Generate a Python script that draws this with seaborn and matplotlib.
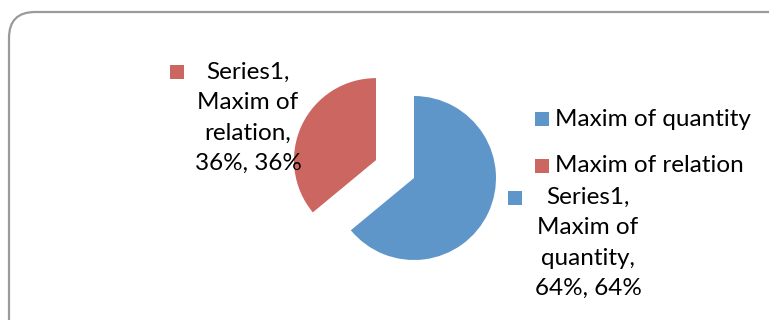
import matplotlib
matplotlib.use("Agg")
import matplotlib.pyplot as plt
from matplotlib.patches import FancyBboxPatch
import seaborn as sns

# data
categories = ["Maxim of quantity", "Maxim of relation"]
series_name = "Series1"
shares = [64, 36]
colors = ["#5F96C9", "#CC6660"]

sns.set_theme(style="white")
plt.rcParams["font.family"] = ["Lato", "DejaVu Sans"]

W, H = 769, 320
fig = plt.figure(figsize=(W / 100, H / 100), dpi=100)
ax = fig.add_axes([0, 0, 1, 1])

# pie in pixel coordinates (y measured from bottom)
cx, cy, r = 414, H - 178, 82
ax.pie(shares, colors=colors, startangle=90, counterclock=False,
       explode=[0, 42], center=(cx, cy), radius=r,
       wedgeprops=dict(linewidth=0))

ax.set_xlim(0, W)
ax.set_ylim(0, H)
ax.set_aspect("equal")
ax.axis("off")

# outer rounded frame
frame = FancyBboxPatch((9, -40), W + 20, H - 12 + 40,
                       boxstyle="round,pad=0,rounding_size=26",
                       fc="none", ec="#9A9A9A", lw=1.6, clip_on=False)
ax.add_patch(frame)

fs = 17.5

# data labels
def data_label(sx, sy, tx, ty, name, val, color):
    ax.scatter([sx], [H - sy], marker="s", s=110, color=color, linewidths=0)
    words = name.split(" ")
    txt = f"{series_name},\n{' '.join(words[:2])}\n{' '.join(words[2:])},\n{val}%, {val}%"
    ax.text(tx, H - ty, txt, ha="center", va="top", fontsize=fs,
            linespacing=1.55, color="black")

data_label(177, 72, 248, 62, categories[1], shares[1], colors[1])
data_label(515, 198, 588, 187, categories[0], shares[0], colors[0])

# legend
for i, (cat, col) in enumerate(zip(categories, colors)):
    ly = 119 + i * 47
    ax.scatter([542], [H - ly], marker="s", s=110, color=col, linewidths=0)
    ax.text(555, H - ly, cat, ha="left", va="center", fontsize=fs, color="black")

fig.savefig("out.png", dpi=100)
